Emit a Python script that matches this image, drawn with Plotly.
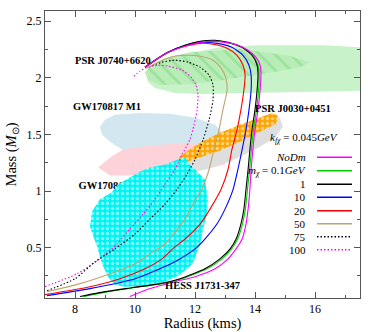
import plotly.graph_objects as go

# ---------------- data: mass-radius curves (R in km, M in Msun) ----------------
R_nodm = [9.83, 10.5, 11.33, 12.0, 12.67, 13.1, 13.37, 13.57, 13.7, 13.77, 13.83, 13.87, 13.93, 14.0, 14.1, 14.17, 14.2, 14.17, 14.03, 13.77, 13.43, 13.0, 12.57, 12.17, 11.67, 11.1, 10.67, 10.33]
M_nodm = [0.068, 0.138, 0.199, 0.243, 0.313, 0.401, 0.489, 0.576, 0.708, 0.84, 1.015, 1.19, 1.366, 1.541, 1.717, 1.892, 2.024, 2.111, 2.182, 2.243, 2.287, 2.313, 2.322, 2.313, 2.278, 2.225, 2.155, 2.094]

R_01 = [8.3, 9.1, 10.0, 10.9, 11.57, 12.4, 12.9, 13.22, 13.42, 13.58, 13.68, 13.75, 13.82, 13.88, 13.95, 14.05, 14.12, 14.14, 14.1, 13.93, 13.6, 13.12, 12.67, 12.17, 11.67, 11.1, 10.67, 10.33]
M_01 = [0.068, 0.111, 0.147, 0.182, 0.225, 0.313, 0.401, 0.489, 0.576, 0.708, 0.84, 1.015, 1.19, 1.366, 1.541, 1.717, 1.892, 2.024, 2.111, 2.199, 2.265, 2.31, 2.327, 2.32, 2.285, 2.224, 2.155, 2.094]

R_1 = [8.17, 9.0, 9.93, 10.83, 11.5, 12.33, 12.83, 13.17, 13.37, 13.53, 13.63, 13.7, 13.77, 13.83, 13.9, 14.0, 14.07, 14.1, 14.07, 13.9, 13.57, 13.1, 12.67, 12.17, 11.67, 11.1, 10.67, 10.33]
M_1 = [0.068, 0.111, 0.147, 0.182, 0.225, 0.313, 0.401, 0.489, 0.576, 0.708, 0.84, 1.015, 1.19, 1.366, 1.541, 1.717, 1.892, 2.024, 2.111, 2.199, 2.269, 2.313, 2.331, 2.322, 2.287, 2.225, 2.155, 2.094]

R_10 = [7.07, 8.5, 10.0, 10.83, 11.33, 12.0, 12.33, 12.73, 13.0, 13.27, 13.43, 13.57, 13.7, 13.8, 13.87, 13.87, 13.8, 13.6, 13.23, 12.73, 12.17, 11.67, 11.1, 10.67, 10.33]
M_10 = [0.076, 0.138, 0.225, 0.313, 0.375, 0.489, 0.576, 0.708, 0.84, 1.015, 1.19, 1.366, 1.541, 1.717, 1.892, 2.024, 2.111, 2.199, 2.269, 2.304, 2.313, 2.287, 2.225, 2.155, 2.094]

R_20 = [7.0, 8.5, 9.5, 10.33, 10.9, 11.33, 11.67, 12.17, 12.5, 12.87, 13.1, 13.23, 13.4, 13.53, 13.63, 13.67, 13.6, 13.4, 13.07, 12.6, 12.17, 11.67, 11.1, 10.67, 10.33]
M_20 = [0.085, 0.155, 0.225, 0.313, 0.401, 0.506, 0.576, 0.708, 0.84, 1.015, 1.19, 1.366, 1.541, 1.717, 1.892, 2.024, 2.111, 2.199, 2.261, 2.296, 2.304, 2.278, 2.225, 2.155, 2.094]

R_50 = [7.07, 8.17, 9.17, 10.0, 10.5, 11.0, 11.33, 11.67, 11.93, 12.23, 12.47, 12.63, 12.8, 12.93, 13.07, 13.03, 12.87, 12.6, 12.17, 11.67, 11.17, 10.7, 10.37]
M_50 = [0.111, 0.182, 0.269, 0.357, 0.445, 0.532, 0.638, 0.752, 0.883, 1.015, 1.19, 1.366, 1.541, 1.717, 1.892, 1.997, 2.085, 2.155, 2.19, 2.199, 2.182, 2.129, 2.085]

R_75 = [7.07, 8.0, 8.67, 9.33, 10.0, 10.5, 11.0, 11.4, 11.73, 12.0, 12.27, 12.47, 12.6, 12.6, 12.47, 12.17, 11.77, 11.33, 10.9, 10.43]
M_75 = [0.12, 0.225, 0.375, 0.489, 0.62, 0.752, 0.883, 1.015, 1.147, 1.278, 1.454, 1.629, 1.804, 1.936, 2.024, 2.094, 2.138, 2.155, 2.138, 2.094]

R_100 = [7.0, 8.07, 8.83, 9.4, 9.83, 10.27, 10.67, 11.0, 11.33, 11.57, 11.83, 11.97, 12.07, 12.1, 12.03, 11.87, 11.57, 11.1, 10.77, 10.43, 10.17, 9.93]
M_100 = [0.155, 0.269, 0.401, 0.532, 0.664, 0.796, 0.927, 1.059, 1.19, 1.322, 1.454, 1.585, 1.717, 1.848, 1.936, 2.006, 2.068, 2.103, 2.111, 2.094, 2.059, 2.006]

# ---------------- data: observational constraint regions ----------------
R_j0740_band = [10.4, 10.5, 10.83, 11.33, 11.83, 12.83, 14.07, 16.27, 18.2, 18.2, 15.5, 13.5, 12.17, 11.33, 10.67, 10.43]
M_j0740_band = [2.01, 2.09, 2.155, 2.19, 2.217, 2.27, 2.287, 2.287, 2.26, 1.89, 1.874, 1.866, 1.857, 1.866, 1.91, 1.962]

R_j0740_hatch = [10.33, 10.5, 11.0, 11.83, 13.5, 15.07, 15.83, 15.5, 14.6, 12.93, 11.83, 10.83, 10.43]
M_j0740_hatch = [2.05, 2.103, 2.173, 2.225, 2.252, 2.2, 2.138, 2.094, 2.05, 1.98, 1.945, 1.936, 1.98]

R_gw_m1 = [8.83, 9.0, 9.33, 10.17, 11.17, 12.0, 12.67, 13.0, 12.83, 12.17, 11.33, 10.5, 10.0, 9.67, 9.17, 8.9]
M_gw_m1 = [1.567, 1.629, 1.673, 1.69, 1.682, 1.646, 1.585, 1.497, 1.383, 1.322, 1.278, 1.252, 1.278, 1.348, 1.436, 1.5]

R_pink = [8.77, 9.17, 9.6, 10.5, 11.83, 12.67, 13.17, 13.0, 12.33, 11.17, 9.83, 9.17]
M_pink = [1.208, 1.296, 1.366, 1.401, 1.427, 1.41, 1.348, 1.234, 1.19, 1.173, 1.138, 1.138]

R_gray = [11.0, 11.23, 11.83, 12.67, 13.67, 14.5, 14.83, 14.93, 14.67, 14.0, 13.17, 12.33, 11.67, 11.17]
M_gray = [1.173, 1.252, 1.348, 1.454, 1.567, 1.655, 1.646, 1.567, 1.471, 1.366, 1.26, 1.19, 1.147, 1.138]

R_j0030 = [11.33, 11.57, 12.17, 12.83, 13.5, 14.17, 14.57, 14.77, 14.7, 14.17, 13.5, 12.83, 12.17, 11.67]
M_j0030 = [1.252, 1.322, 1.427, 1.515, 1.585, 1.655, 1.69, 1.664, 1.594, 1.524, 1.436, 1.357, 1.296, 1.252]

R_gw_m2 = [10.5, 11.0, 11.43, 11.67, 11.83, 12.33, 12.43, 12.4, 12.27, 12.17, 11.93, 11.5, 11.0, 10.33, 9.67, 9.33, 9.1, 8.9, 8.73, 8.5, 8.57, 8.83, 9.23, 9.43, 9.83, 10.17]
M_gw_m2 = [1.208, 1.234, 1.278, 1.296, 1.234, 1.103, 0.927, 0.796, 0.664, 0.532, 0.357, 0.26, 0.199, 0.164, 0.155, 0.173, 0.243, 0.357, 0.515, 0.682, 0.822, 0.927, 0.989, 1.059, 1.12, 1.173]

# labels
region_labels = ["PSR J0740+6620", "GW170817 M1", "PSR J0030+0451", "HESS J1731-347"]
region_label_R = [9.25, 9.08, 15.25, 12.25]
region_label_M = [2.15, 1.743, 1.73, 0.168]
m2_label = "GW170817 M2"
m2_label_R = [9.25]
m2_label_M = [1.041]

x_ticks = [8, 10, 12, 14, 16]
y_ticks = [0.5, 1, 1.5, 2, 2.5]

legend_names = ["<i>NoDm</i>", "<i>m</i><sub><i>χ</i></sub> = 0.1<i>GeV</i>", "1", "10", "20", "50", "75", "100"]
legend_header = "<i>k</i><sub><i>fχ</i></sub> = 0.045<i>GeV</i>"

FONT = "Liberation Serif"
DOTTED = "1.5px,2px"

fig = go.Figure()

def region(R, M, color, pattern=None):
    kw = dict(x=R, y=M, mode="lines", fill="toself", fillcolor=color,
              line=dict(width=0, color=color), hoverinfo="skip", showlegend=False)
    if pattern:
        kw["fillpattern"] = pattern
    fig.add_trace(go.Scatter(**kw))

region(R_j0740_band, M_j0740_band, "#c8f2c8")
region(R_j0740_hatch, M_j0740_hatch, "#b8edb8",
       dict(shape="\\", bgcolor="#b8edb8", fgcolor="#7fd67f", size=11, solidity=0.25))
region(R_gw_m1, M_gw_m1, "#d2e7ef")
region(R_pink, M_pink, "#fdd3d9")
region(R_gray, M_gray, "#dedede")
region(R_j0030, M_j0030, "#ffa500",
       dict(shape=".", bgcolor="#ffa500", fgcolor="white", size=5, solidity=0.35))

# M2 label lies beneath the cyan region
fig.add_trace(go.Scatter(x=m2_label_R, y=m2_label_M, mode="text", text=["<b>" + m2_label + "</b>"],
                         textfont=dict(family=FONT, size=10.5, color="black"),
                         hoverinfo="skip", showlegend=False))

region(R_gw_m2, M_gw_m2, "#00f4f4",
       dict(shape=".", bgcolor="#00f4f4", fgcolor="white", size=5, solidity=0.38))

# curves
curves = [
    (R_100, M_100, "#ff00ff", DOTTED),
    (R_75, M_75, "black", DOTTED),
    (R_50, M_50, "#bfa56e", "solid"),
    (R_20, M_20, "#ff0000", "solid"),
    (R_10, M_10, "#0000ff", "solid"),
    (R_01, M_01, "#00cc00", "solid"),
    (R_1, M_1, "black", "solid"),
    (R_nodm, M_nodm, "#ff00ff", "solid"),
]
for R, M, c, d in curves:
    fig.add_trace(go.Scatter(x=R, y=M, mode="lines", line=dict(color=c, width=1.1, dash=d, shape="spline", smoothing=0.6),
                             hoverinfo="skip", showlegend=False))

annotations = []
for t, x, y in zip(region_labels, region_label_R, region_label_M):
    annotations.append(dict(x=x, y=y, xref="x", yref="y", text="<b>" + t + "</b>", showarrow=False,
                            font=dict(family=FONT, size=10.5, color="black")))

# manual legend (text right aligned, sample line on the right)
leg_colors = ["#ff00ff", "#00cc00", "black", "#0000ff", "#ff0000", "#bfa56e", "black", "#ff00ff"]
leg_dash = ["solid", "solid", "solid", "solid", "solid", "solid", DOTTED, DOTTED]
leg_y = [0.490, 0.443, 0.396, 0.351, 0.304, 0.259, 0.213, 0.168]
annotations.append(dict(x=0.822, y=0.558, xref="paper", yref="paper", text=legend_header, showarrow=False,
                        xanchor="center", yanchor="middle",
                        font=dict(family=FONT, size=11, color="black")))
shapes = []
for name, c, d, yy in zip(legend_names, leg_colors, leg_dash, leg_y):
    annotations.append(dict(x=0.835, y=yy, xref="paper", yref="paper", text=name, showarrow=False,
                            xanchor="right", yanchor="middle", font=dict(family=FONT, size=11, color="black")))
    shapes.append(dict(type="line", xref="paper", yref="paper", x0=0.8635, x1=0.9746, y0=yy, y1=yy,
                       line=dict(color=c, width=1.5, dash=d)))

axis_common = dict(showline=True, linecolor="#555555", linewidth=1, mirror="ticks", ticks="inside",
                   tickcolor="#555555", ticklen=6, showgrid=False, zeroline=False, automargin=False,
                   tickfont=dict(family=FONT, size=12, color="black"))

fig.update_layout(
    width=379, height=332,
    margin=dict(l=45, r=19, t=11, b=34),
    paper_bgcolor="white", plot_bgcolor="white",
    showlegend=False,
    annotations=annotations, shapes=shapes,
    xaxis=dict(range=[7, 17.5], tickvals=x_ticks,
               minor=dict(dtick=1, tick0=0, ticks="inside", ticklen=3, tickcolor="#555555"),
               title=dict(text="Radius (kms)", font=dict(family=FONT, size=14.5, color="black"), standoff=4),
               **axis_common),
    yaxis=dict(range=[0.055, 2.59], tickvals=y_ticks, ticktext=["0.5", "1", "1.5", "2", "2.5"],
               minor=dict(dtick=0.25, tick0=0, ticks="inside", ticklen=3, tickcolor="#555555"),
               title=dict(text="Mass (<i>M</i><sub>⊙</sub>)", font=dict(family=FONT, size=14.5, color="black"), standoff=6),
               **axis_common),
)

fig.write_html("out.html", config={"displayModeBar": False},
               post_script="document.body.style.margin='0';")
